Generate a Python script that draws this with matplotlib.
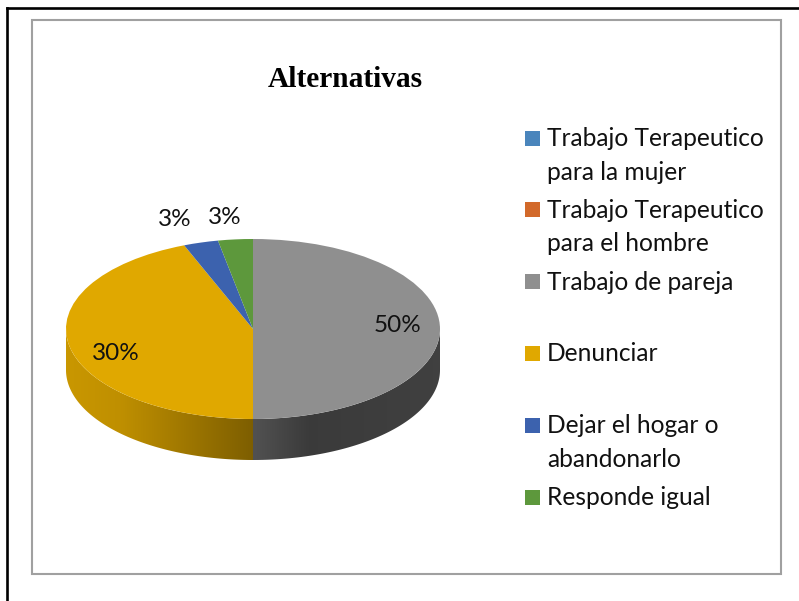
import numpy as np
import matplotlib
matplotlib.use('Agg')
import matplotlib.pyplot as plt
from matplotlib.colors import to_rgb
from matplotlib.patches import Polygon, Rectangle

title = 'Alternativas'
legend_labels = ['Trabajo Terapeutico\npara la mujer', 'Trabajo Terapeutico\npara el hombre',
                 'Trabajo de pareja', 'Denunciar', 'Dejar el hogar o\nabandonarlo', 'Responde igual']
slice_values = [0, 0, 50, 44, 3, 3]
shown_labels = ['', '', '50%', '30%', '3%', '3%']
slice_colors = ['#4A85BC', '#D2692A', '#8F8F8F', '#E0A800', '#3C62AE', '#5D983C']

W, H = 799, 601
DEPTH = 41 / 90  # side height in units of the ellipse's short radius

fig = plt.figure(figsize=(W / 100, H / 100), dpi=100, facecolor='white')

# page coordinates for frames, title and legend
bg = fig.add_axes([0, 0, 1, 1])
bg.set_xlim(0, W)
bg.set_ylim(H, 0)
bg.axis('off')
bg.plot([7, 7], [H + 5, 8], color='black', lw=1.9, clip_on=False)
bg.plot([7, W + 5], [8, 8], color='black', lw=1.9, clip_on=False)
bg.add_patch(Rectangle((32, 20), 749, 554, fill=False, ec='#A0A0A0', lw=1.5))
bg.text(345, 79.5, title, family='Liberation Serif', weight='bold', fontsize=21.2,
        color='black', ha='center', va='center')

for i, (lab, col) in enumerate(zip(legend_labels, slice_colors)):
    y = 138 + i * 71.8
    bg.add_patch(Rectangle((525, y - 7.5), 15, 15, fc=col, ec='none'))
    bg.text(547, y - 11, lab, family='Lato', fontsize=17.65, color='#111111',
            va='top', ha='left', linespacing=1.56)

# pie axes, squashed so the circle becomes the tilted top face
ax = fig.add_axes([66 / W, 1 - 460 / H, 374 / W, 221 / H])
ax.pie(slice_values, colors=slice_colors, startangle=90, counterclock=False,
       radius=1, wedgeprops={'linewidth': 0})


def side_shade(x):
    # lighting across the front wall of the pie
    return np.interp(x, [-1, -0.7, 0, 0.02, 0.3, 1], [0.9, 0.85, 0.56, 0.56, 0.41, 0.45])


# front wall, clockwise angle from 12 o'clock, only the lower half is visible
edges = np.cumsum([0] + slice_values) / sum(slice_values) * 360
grad_x = np.linspace(-1, 1, 400)
for v0, v1, col in zip(edges[:-1], edges[1:], slice_colors):
    a0, a1 = max(v0, 90), min(v1, 270)
    if a1 <= a0:
        continue
    angs = np.radians(np.linspace(a0, a1, 200))
    xs, ys = np.sin(angs), np.cos(angs)
    outline = np.vstack([np.column_stack([xs, ys]),
                         np.column_stack([xs[::-1], ys[::-1] - DEPTH])])
    wall = Polygon(outline, closed=True, fc='none', ec='none', transform=ax.transData)
    ax.add_patch(wall)
    base = np.array(to_rgb(col))
    grad = side_shade(grad_x)[None, :, None] * base[None, None, :]
    im = ax.imshow(grad, extent=(-1, 1, -1 - DEPTH, 1), aspect='auto', zorder=0, interpolation='bilinear')
    im.set_clip_path(wall)

ax.set_aspect('auto')
ax.set_xlim(-1, 1)
ax.set_ylim(-1 - DEPTH, 1)
ax.set_axis_off()

# data labels
label_pos = [None, None, (398, 326), (116, 354), (175, 220), (225, 218)]
for txt, pos in zip(shown_labels, label_pos):
    if txt:
        bg.text(pos[0], pos[1], txt, family='Lato', fontsize=17.5, color='#111111',
                ha='center', va='center', zorder=5)

# labels sit on top of the pie
bg.set_zorder(ax.get_zorder() + 1)
bg.patch.set_alpha(0)

fig.savefig('out.png', dpi=100)
